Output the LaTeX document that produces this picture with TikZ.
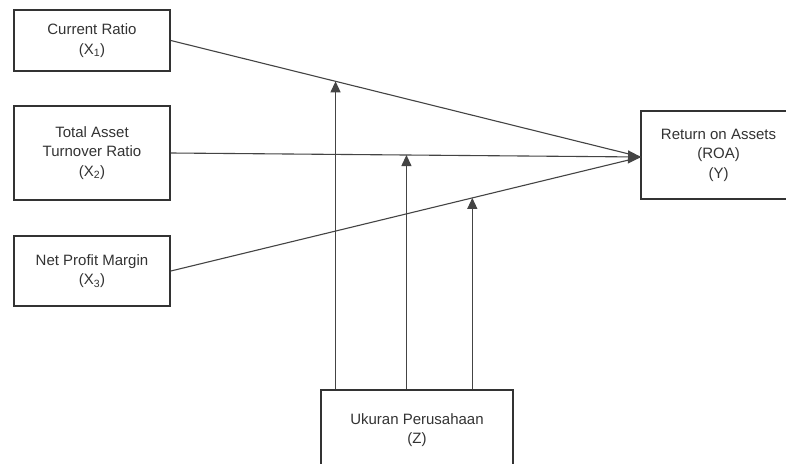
\documentclass[tikz,border=0pt]{standalone}
\usepackage{fontspec}
\setmainfont{Liberation Sans}
\usetikzlibrary{arrows.meta,calc}
\definecolor{boxline}{HTML}{333333}
\definecolor{conn}{HTML}{444444}
\begin{document}
\begin{tikzpicture}[x=1pt,y=-1pt,
  varbox/.style={draw=boxline,line width=1.7pt,inner sep=0pt,align=center,
    font=\fontsize{15}{19.5}\selectfont,text=black!80},
  link/.style={draw=conn,line width=1.1pt},
  tip/.style={-{Triangle[length=11pt,width=10pt]}},
  bigtip/.style={-{Triangle[length=13pt,width=13pt]}}]
\useasboundingbox (0,0) rectangle (786,463);
\clip (0,0) rectangle (786,463);
\fill[white] (0,0) rectangle (786,463);
\node[varbox,minimum width=156pt,minimum height=61pt] (x1) at (92,40.5) {Current Ratio\\(X\textsubscript{1})};
\node[varbox,minimum width=156pt,minimum height=94pt] (x2) at (92,153) {Total Asset\\Turnover Ratio\\(X\textsubscript{2})};
\node[varbox,minimum width=156pt,minimum height=70pt] (x3) at (92,271) {Net Profit Margin\\(X\textsubscript{3})};
\node[varbox,minimum width=155pt,minimum height=88pt] (y) at (718.5,155) {Return on Assets\\(ROA)\\(Y)};
\node[varbox,minimum width=192pt,minimum height=80pt] (z) at (417,430) {Ukuran Perusahaan\\(Z)};
\coordinate (t) at (641,157);
\draw[link] (x1.east) -- (t);
\draw[link] (x3.east) -- (t);
\draw[link,bigtip] (x2.east) -- (t);
\path (x1.east) -- (t) coordinate[pos=0.3503] (m1);
\path (x2.east) -- (t) coordinate[pos=0.5011] (m2);
\path (x3.east) -- (t) coordinate[pos=0.6412] (m3);
\draw[link,tip] (m1 |- z.north) -- (m1);
\draw[link,tip] (m2 |- z.north) -- (m2);
\draw[link,tip] (m3 |- z.north) -- (m3);
\end{tikzpicture}
\end{document}
